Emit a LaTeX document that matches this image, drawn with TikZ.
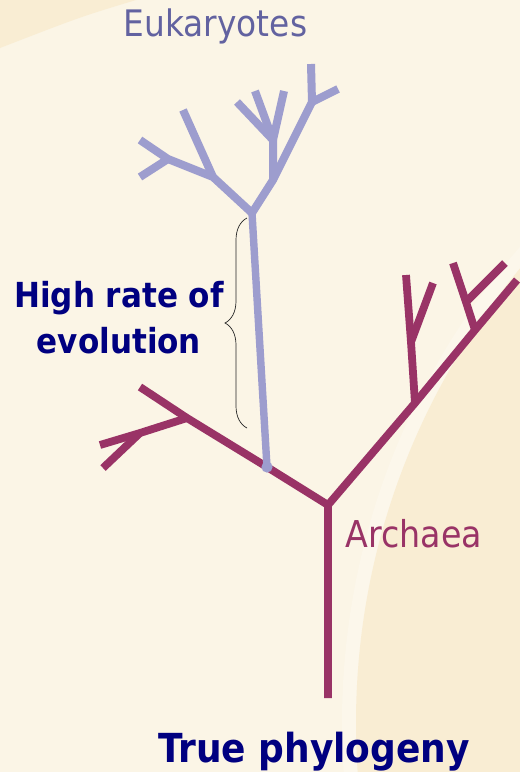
\documentclass[tikz,border=0pt]{standalone}
\usepackage{fontspec}
\setmainfont{DejaVu Sans Condensed}
\usetikzlibrary{decorations.pathreplacing}
\definecolor{bgcream}{HTML}{FBF5E6}
\definecolor{bglight}{HTML}{FCF7EB}
\definecolor{bgdark}{HTML}{F9EDD3}
\definecolor{eukline}{HTML}{9D9DCE}
\definecolor{euktext}{HTML}{6262A0}
\definecolor{arch}{HTML}{993366}
\definecolor{navy}{HTML}{000080}
\begin{document}
\begin{tikzpicture}[x=1pt,y=-1pt,
  eukb/.style={draw=eukline,line width=8pt,line cap=butt,line join=round},
  archb/.style={draw=arch,line width=7.8pt,line cap=butt,line join=round},
  lbl/.style={inner sep=0pt,anchor=base},
]
\useasboundingbox (0,0) rectangle (520,772);
% background
\fill[bgcream] (0,0) rectangle (520,772);
\fill[bgdark] (0,0) -- (136,0) .. controls (80,17) .. (0,48) -- cycle;
\begin{scope}
  \clip (0,0) rectangle (520,772);
  \fill[bglight] (1068,723) circle[radius=726pt];
  \fill[bgdark] (1068,723) circle[radius=712pt];
\end{scope}

% archaea tree
\coordinate (Aroot) at (328,698);
\coordinate (A0) at (328,505);
\coordinate (A1) at (267,467);
\coordinate (A2) at (187,418);
\coordinate (A2t) at (140,387);
\coordinate (A3) at (140,433);
\coordinate (A3a) at (100,445);
\coordinate (A3b) at (103,468);
\coordinate (A4) at (415,403);
\coordinate (A4t) at (406,275);
\coordinate (A6) at (411,342);
\coordinate (A6t) at (433,283);
\coordinate (A5) at (475,330);
\coordinate (A5t) at (517,280);
\coordinate (A7) at (466,302);
\coordinate (A7a) at (453,263);
\coordinate (A7b) at (505,263);

\draw[archb] (Aroot) -- (A0) -- (A1) -- (A2) -- (A2t);
\draw[archb] (A2) -- (A3) -- (A3a);
\draw[archb] (A3) -- (A3b);
\draw[archb] (A0) -- (A4) -- (A5) -- (A5t);
\draw[archb] (A4) -- (A6) -- (A4t);
\draw[archb] (A6) -- (A6t);
\draw[archb] (A5) -- (A7) -- (A7a);
\draw[archb] (A7) -- (A7b);

% eukaryote tree
\coordinate (E0) at (252,213);
\coordinate (Ea) at (213,177);
\coordinate (Eb) at (168,159);
\coordinate (Eb1) at (140,140);
\coordinate (Eb2) at (140,177);
\coordinate (Eab) at (200,148);
\coordinate (Eat) at (183,110);
\coordinate (Ec) at (273,180);
\coordinate (Ed) at (273,140);
\coordinate (Ed1) at (237,102);
\coordinate (Ed2) at (255,91);
\coordinate (Ed3) at (284,91);
\coordinate (Ee) at (312,102);
\coordinate (Ee1) at (311,64);
\coordinate (Ee2) at (338,89);

\draw[eukb,line width=7.4pt] (A1) -- (E0);
\fill[eukline] (A1) circle[radius=5.6pt];
\draw[eukb] (E0) -- (Ea) -- (Eb) -- (Eb1);
\draw[eukb] (Eb) -- (Eb2);
\draw[eukb] (Ea) -- (Eab) -- (Eat);
\draw[eukb] (E0) -- (Ec) -- (Ed) -- (Ed1);
\draw[eukb] (Ed) -- (Ed2);
\draw[eukb] (Ed) -- (Ed3);
\draw[eukb] (Ec) -- (Ee) -- (Ee1);
\draw[eukb] (Ee) -- (Ee2);

% brace
\coordinate (Bb) at (247,428);
\coordinate (Bt) at (247,218);
\draw[black!85,line width=0.7pt,decorate,decoration={brace,amplitude=22pt,aspect=0.5}] (Bb) -- (Bt);

% labels
\node[lbl,text=euktext,font=\fontsize{36.5}{44}\selectfont] (euk) at (215.5,36) {Eukaryotes};
\node[lbl,text=arch,font=\fontsize{37}{44}\selectfont] (archl) at (414,547) {Archaea};
\node[lbl,text=navy,font=\bfseries\fontsize{34.5}{46}\selectfont,align=center] (hr) at (119,353) {High rate of\\evolution};
\node[lbl,text=navy,font=\bfseries\fontsize{40}{48}\selectfont] (tp) at (314,762) {True phylogeny};
\end{tikzpicture}
\end{document}
